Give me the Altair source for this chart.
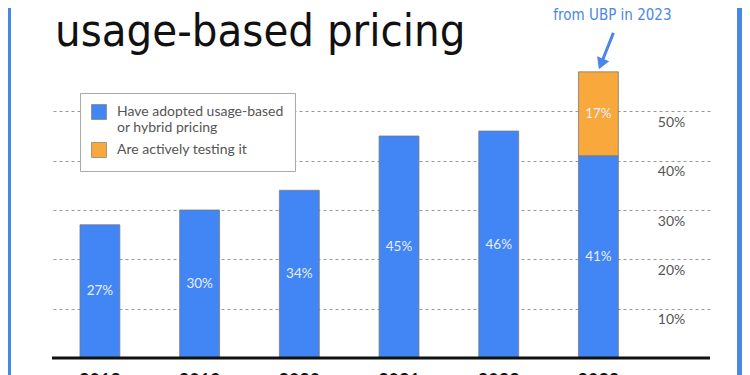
import altair as alt
import pandas as pd

years = ["2018", "2019", "2020", "2021", "2022", "2023"]
adopted = [27, 30, 34, 45, 46, 41]
testing_year = "2023"
testing = 17
series_names = ["Have adopted usage-based|or hybrid pricing", "Are actively testing it"]
colors = ["#4285f4", "#f9a83b"]
y_ticks = [10, 20, 30, 40, 50]
title_text = "usage-based pricing"
note_text = "from UBP in 2023"

rows = [{"year": y, "series": series_names[0], "value": v, "ord": 0} for y, v in zip(years, adopted)]
rows.append({"year": testing_year, "series": series_names[1], "value": testing, "ord": 1})
df = pd.DataFrame(rows)

W, H = 658, 296
HAND = "DejaVu Sans Condensed, Liberation Sans Narrow, DejaVu Sans, sans-serif"
BLUE_NOTE = "#4a86e8"

xscale = alt.Scale(domain=years, paddingInner=0.6, paddingOuter=0.6, align=0.234)
yscale = alt.Scale(domain=[0, 60], nice=False, zero=True)

bars = alt.Chart(df).mark_bar(stroke="#7a7a7a", strokeWidth=0.8).encode(
    x=alt.X("year:N", scale=xscale, sort=years,
            axis=alt.Axis(title=None, domain=False, ticks=False, labelPadding=14,
                          labelFont="Lato", labelFontSize=18, labelFontWeight="bold",
                          labelColor="#111", labelAngle=0)),
    y=alt.Y("value:Q", stack="zero", scale=yscale,
            axis=alt.Axis(title=None, orient="right", offset=-39, values=y_ticks,
                          labelExpr="datum.value + '%'", domain=False, ticks=False,
                          labelPadding=0, labelAlign="center", labelBaseline="middle",
                          labelOffset=11, labelFont="Lato", labelFontSize=14,
                          labelColor="#555", grid=True, gridColor="#999",
                          gridDash=[3, 3], gridWidth=1)),
    color=alt.Color("series:N",
                    scale=alt.Scale(domain=series_names, range=colors),
                    legend=alt.Legend(title=None, orient="none", legendX=28, legendY=31,
                                      direction="vertical", fillColor="white",
                                      strokeColor="#aaa", padding=11,
                                      symbolType="square", symbolSize=225,
                                      symbolStrokeColor="#888", symbolStrokeWidth=0.8,
                                      labelFont="Lato", labelFontSize=14,
                                      labelColor="#555", labelLimit=300,
                                      labelExpr="split(datum.label, '|')",
                                      rowPadding=5, labelOffset=10)),
    order=alt.Order("ord:Q"),
)

labels = alt.Chart(df).transform_stack(
    stack="value", groupby=["year"], as_=["v0", "v1"], sort=[alt.SortField("ord")]
).transform_calculate(
    mid="(datum.v0 + datum.v1) / 2", lab="datum.value + '%'"
).mark_text(font="Lato", fontSize=13.5, color="#e8efff", baseline="middle").encode(
    x=alt.X("year:N", scale=xscale, sort=years),
    y=alt.Y("mid:Q", scale=yscale),
    text="lab:N",
)

baseline = alt.Chart(pd.DataFrame({"v": [0]})).mark_rule(color="#111", strokeWidth=3).encode(
    y=alt.Y("v:Q", scale=yscale)
)

arrow_df = pd.DataFrame({"year": [testing_year], "tail": [65.9], "head": [59.6], "note": [note_text], "ny": [68.5]})

arrow_line = alt.Chart(arrow_df).mark_rule(color=BLUE_NOTE, strokeWidth=3, xOffset=15, x2Offset=2.6).encode(
    x=alt.X("year:N", scale=xscale, sort=years),
    x2="year:N",
    y=alt.Y("tail:Q", scale=yscale),
    y2="head:Q",
)
arrow_head = alt.Chart(arrow_df).mark_point(shape="triangle-down", filled=True, size=170,
                                            color=BLUE_NOTE, opacity=1, angle=22, xOffset=2.6).encode(
    x=alt.X("year:N", scale=xscale, sort=years),
    y=alt.Y("head:Q", scale=yscale),
)
note = alt.Chart(arrow_df).mark_text(font=HAND, fontSize=15, color=BLUE_NOTE, dx=14,
                                     baseline="alphabetic", align="center").encode(
    x=alt.X("year:N", scale=xscale, sort=years),
    y=alt.Y("ny:Q", scale=yscale),
    text="note:N",
)

title = alt.Chart(pd.DataFrame({"t": [title_text]})).mark_text(
    font=HAND, fontSize=45, color="#111", align="left", baseline="alphabetic"
).encode(x=alt.value(3), y=alt.value(-16), text="t:N")

strip_df = pd.DataFrame({"s": [0]})
left_strip = alt.Chart(strip_df).mark_rect(color="#4a86e8").encode(
    x=alt.value(-44), x2=alt.value(-41), y=alt.value(-60), y2=alt.value(340))
right_strip = alt.Chart(strip_df).mark_rect(color="#4a86e8").encode(
    x=alt.value(685), x2=alt.value(690), y=alt.value(-60), y2=alt.value(340))

chart = alt.layer(
    bars, labels, baseline, arrow_line, arrow_head, note, title, left_strip, right_strip
).properties(
    width=W, height=H,
    autosize=alt.AutoSizeParams(type="none"),
    padding={"left": 44, "top": 54, "right": 32, "bottom": 30},
    background="white",
).configure_view(strokeWidth=0)

chart.save("out.html", embed_options={"renderer": "svg", "actions": False})
